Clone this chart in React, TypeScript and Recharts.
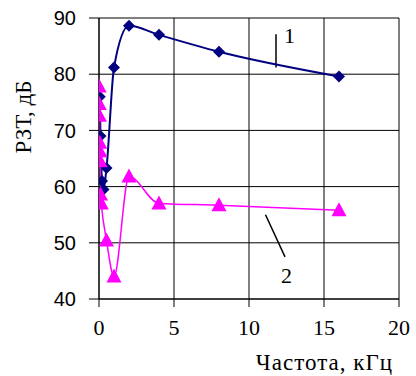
import React from "react";
import {
  LineChart, Line, XAxis, YAxis, CartesianGrid, ReferenceLine, ReferenceDot,
} from "recharts";

// curve 1 (diamonds)
const freq1 = [0.05, 0.1, 0.2, 0.3, 0.5, 1, 2, 4, 8, 16];
const rzt1 = [76, 69, 61, 59.5, 63.3, 81.2, 88.6, 87, 84, 79.6];

// curve 2 (triangles)
const freq2 = [0.01, 0.02, 0.03, 0.05, 0.06, 0.08, 0.1, 0.15, 0.5, 1, 2, 4, 8, 16];
const rzt2 = [77.8, 74.7, 72.6, 67.8, 66.3, 64.5, 58.6, 57, 50.4, 44, 61.8, 57, 56.7, 55.8];

const xTicks = [0, 5, 10, 15, 20];
const yTicks = [40, 50, 60, 70, 80, 90];

const NAVY = "#000080";
const PINK = "#ff00ff";
const SERIF = "'Liberation Serif', 'Times New Roman', serif";
const SANS = "'Liberation Sans', Arial, sans-serif";

const series1 = freq1.map((x, i) => ({ x, y: rzt1[i] }));
const series2 = freq2.map((x, i) => ({ x, y: rzt2[i] }));

const Diamond = (p: any) => {
  const { cx, cy, index } = p;
  if (cx == null || cy == null) return <g key={`d${index}`} />;
  return (
    <path
      key={`d${index}`}
      d={`M${cx},${cy - 6}L${cx + 6},${cy}L${cx},${cy + 6}L${cx - 6},${cy}Z`}
      fill={NAVY}
    />
  );
};

const Triangle = (p: any) => {
  const { cx, cy, index } = p;
  if (cx == null || cy == null) return <g key={`t${index}`} />;
  return (
    <path
      key={`t${index}`}
      d={`M${cx},${cy - 8}L${cx + 7.5},${cy + 6}L${cx - 7.5},${cy + 6}Z`}
      fill={PINK}
    />
  );
};

const YTitle = (props: any) => {
  const { viewBox } = props;
  const x = 31;
  const y = viewBox.y + 99;
  return (
    <text x={x} y={y} transform={`rotate(-90 ${x} ${y})`} textAnchor="middle"
      fontFamily={SERIF} fontSize={23} fill="#000">
      РЗТ, дБ
    </text>
  );
};

export default function App() {
  return (
    <div style={{ position: "absolute", left: 0, top: 0, width: 416, height: 376, background: "#fff" }}>
      <LineChart width={416} height={376} margin={{ top: 18, right: 17, bottom: 0, left: 0 }}>
        <CartesianGrid stroke="#000" strokeWidth={1} />
        <XAxis
          dataKey="x" type="number" domain={[0, 20]} ticks={xTicks} allowDataOverflow
          height={77} tickSize={8} tickMargin={12} stroke="#000"
          tick={{ fill: "#000", fontSize: 22, fontFamily: SERIF }}
          label={{ value: "Частота, кГц", position: "insideBottomRight", offset: 6, fill: "#000", fontSize: 23, fontFamily: SERIF, letterSpacing: 1 }}
        />
        <YAxis
          type="number" domain={[40, 90]} ticks={yTicks} allowDataOverflow
          width={99} tickSize={10} tickMargin={13} stroke="#000"
          tick={{ fill: "#000", fontSize: 20, fontFamily: SANS }}
          label={<YTitle />}
        />
        <ReferenceLine segment={[{ x: 11.8, y: 87.1 }, { x: 11.8, y: 81.2 }]} stroke="#000" strokeWidth={1.5} />
        <ReferenceDot x={12.7} y={87} r={0} stroke="none" fill="none"
          label={{ value: "1", position: "center", fill: "#000", fontSize: 22, fontFamily: SERIF }} />
        <ReferenceLine segment={[{ x: 11.1, y: 55 }, { x: 12.4, y: 47.5 }]} stroke="#000" strokeWidth={1.5} />
        <ReferenceDot x={12.5} y={44.3} r={0} stroke="none" fill="none"
          label={{ value: "2", position: "center", fill: "#000", fontSize: 22, fontFamily: SERIF }} />
        <Line data={series1} dataKey="y" type="monotone" stroke={NAVY} strokeWidth={2}
          dot={Diamond} activeDot={false} isAnimationActive={false} />
        <Line data={series2} dataKey="y" type="monotone" stroke={PINK} strokeWidth={1.5}
          dot={Triangle} activeDot={false} isAnimationActive={false} />
      </LineChart>
    </div>
  );
}
